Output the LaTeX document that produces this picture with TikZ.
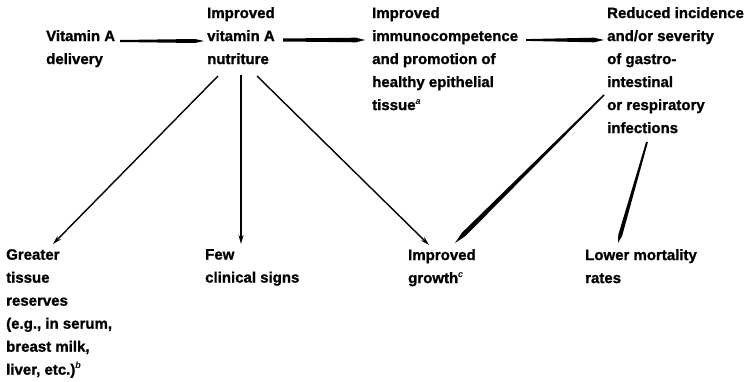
\documentclass[tikz,border=0pt]{standalone}
\usepackage{fontspec}
\setmainfont{Liberation Sans}[BoldFeatures={FakeBold=1.2}]
\usetikzlibrary{calc,arrows.meta}
\newcommand\supx[1]{\raisebox{6pt}{\fontsize{9}{9}\selectfont\itshape #1}}
\newcommand\taperarrow[5]{%
  \path ($(#2)!#5!(#1)$) coordinate (tp);
  \fill ($(#1)!#3!90:(#2)$) -- ($(tp)!#4!90:(#2)$) -- (#2) -- ($(tp)!#4!-90:(#2)$) -- ($(#1)!#3!-90:(#2)$) -- cycle;}
\tikzset{
  lbl/.style={anchor=north west, inner sep=0pt, align=left, font=\bfseries\fontsize{15}{23}\selectfont},
  thinarrow/.style={line width=1.4pt, -{Stealth[length=9pt,width=5pt]}},
}
\begin{document}
\begin{tikzpicture}[x=1pt,y=-1pt]
\useasboundingbox (0,0) rectangle (754,382);
\node[lbl] (del) at (46,30) {Vitamin A\\delivery};
\node[lbl] (imp) at (207,7) {Improved\\vitamin A\\nutriture};
\node[lbl] (imm) at (372,7) {Improved\\immunocompetence\\and promotion of\\healthy epithelial\\tissue\supx{a}};
\node[lbl] (red) at (607,7) {Reduced incidence\\and/or severity\\of gastro-\\intestinal\\or respiratory\\infections};
\node[lbl] (gre) at (6,249) {Greater\\tissue\\reserves\\(e.g., in serum,\\breast milk,\\liver, etc.)\supx{b}};
\node[lbl] (few) at (205,249) {Few\\clinical signs};
\node[lbl] (gro) at (408,249) {Improved\\growth\supx{c}};
\node[lbl] (low) at (585,249) {Lower mortality\\rates};
% connector end points
\coordinate (a1s) at (120,41); \coordinate (a1e) at (204,41);
\coordinate (a2s) at (283,40); \coordinate (a2e) at (365,40);
\coordinate (a3s) at (526,40); \coordinate (a3e) at (604,40);
\coordinate (b1s) at (218,76); \coordinate (b1e) at (53,244);
\coordinate (b2s) at (241,75); \coordinate (b2e) at (241,244);
\coordinate (b3s) at (257,76); \coordinate (b3e) at (429,245);
\coordinate (c1s) at (604,95); \coordinate (c1e) at (455,243);
\coordinate (c2s) at (647,142); \coordinate (c2e) at (618,243);
\taperarrow{a1s}{a1e}{1pt}{2pt}{9pt}
\taperarrow{a2s}{a2e}{1.5pt}{2.3pt}{9pt}
\taperarrow{a3s}{a3e}{0.9pt}{2.3pt}{10pt}
\draw[thinarrow] (b1s) -- (b1e);
\draw[thinarrow] (b2s) -- (b2e);
\draw[thinarrow] (b3s) -- (b3e);
\taperarrow{c1s}{c1e}{0.8pt}{2.4pt}{12pt}
\taperarrow{c2s}{c2e}{0.9pt}{2pt}{8pt}
\end{tikzpicture}
\end{document}
